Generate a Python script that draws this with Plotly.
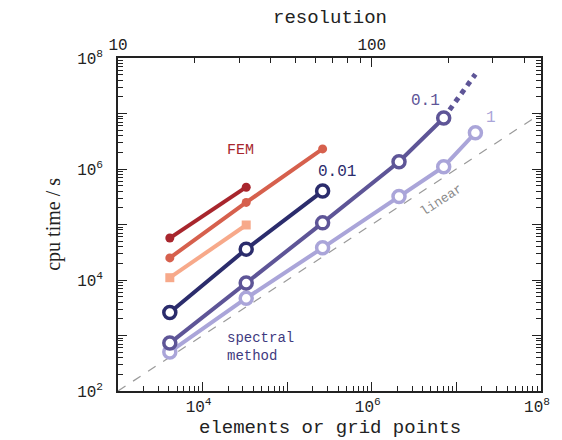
import plotly.graph_objects as go
import numpy as np

# ---- data ----
elements = [4096, 32768, 262144, 2097152, 7077888, 16777216]  # 16^3 ... 256^3
fem_dark = [5.7e4, 4.7e5]
fem_mid = [2.5e4, 2.5e5, 2.3e6]
fem_light = [1.1e4, 9.8e4]
spec_001 = [2.6e3, 3.6e4, 4.0e5]
spec_01 = [730, 8.8e3, 1.07e5, 1.35e6, 8.3e6]
spec_01_extrap_x = [7077888, 16777216]
spec_01_extrap_y = [8.3e6, 5.1e7]
spec_1 = [505, 4.7e3, 3.8e4, 3.2e5, 1.1e6, 4.5e6]
linear_x = [1e3, 1e8]
linear_y = [1e2, 1e7]

x_major = [1e3, 1e4, 1e5, 1e6, 1e7, 1e8]
x_major_text = ["", "10<sup>4</sup>", "", "10<sup>6</sup>", "", "10<sup>8</sup>"]
y_major = [1e2, 1e3, 1e4, 1e5, 1e6, 1e7, 1e8]
y_major_text = ["10<sup>2</sup>", "", "10<sup>4</sup>", "", "10<sup>6</sup>", "", "10<sup>8</sup>"]
res_major = [10, 100]
res_major_text = ["10", "100"]
res_minor = [20, 30, 40, 50, 60, 70, 80, 90, 200, 300, 400]

C_DARK = "#a8262d"
C_MID = "#d6604d"
C_LIGHT = "#f7a98a"
C_NAVY = "#2b2c6c"
C_PURP = "#5e5597"
C_LPURP = "#aaa5d9"

FONT = "Liberation Mono"

def minor_vals(lo, hi):
    v = []
    for d in range(lo, hi):
        for m in range(2, 10):
            v.append(m * 10 ** d)
    return v

fig = go.Figure()

fig.add_trace(go.Scatter(x=linear_x, y=linear_y, mode="lines",
                         line=dict(color="#9a9a9a", width=1.2, dash="dash"),
                         showlegend=False, hoverinfo="skip"))

def fem(y, color, sym="circle"):
    fig.add_trace(go.Scatter(x=elements[:len(y)], y=y, mode="lines+markers",
                             line=dict(color=color, width=4),
                             marker=dict(color=color, size=9, symbol=sym),
                             showlegend=False))

fem(fem_dark, C_DARK)
fem(fem_mid, C_MID)
fem(fem_light, C_LIGHT, "square")

def spec(y, color):
    fig.add_trace(go.Scatter(x=elements[:len(y)], y=y, mode="lines+markers",
                             line=dict(color=color, width=4),
                             marker=dict(color="white", size=12, symbol="circle",
                                         line=dict(color=color, width=3.5)),
                             showlegend=False))

fig.add_trace(go.Scatter(x=spec_01_extrap_x, y=spec_01_extrap_y, mode="lines",
                         line=dict(color=C_PURP, width=5, dash="dot"),
                         showlegend=False))
spec(spec_1, C_LPURP)
spec(spec_01, C_PURP)
spec(spec_001, C_NAVY)

# invisible trace for top axis
fig.add_trace(go.Scatter(x=[10, 10 ** (8 / 3)], y=[1e2, 1e2], xaxis="x2", mode="markers",
                         marker=dict(opacity=0), showlegend=False, hoverinfo="skip"))

axis_common = dict(showgrid=False, zeroline=False, showline=True, linecolor="#222",
                   linewidth=1.5, ticks="inside", tickcolor="#222", tickwidth=1.2,
                   tickfont=dict(family=FONT, size=16, color="#222"))

fig.update_layout(
    width=554, height=432,
    margin=dict(l=110, r=12, t=50, b=49),
    paper_bgcolor="white", plot_bgcolor="white",
    xaxis=dict(type="log", range=[3, 8], tickmode="array", tickvals=x_major,
               ticktext=x_major_text, ticklen=9, mirror=True, ticklabelstandoff=0,
               ticklabelshift=-4,
               minor=dict(tickmode="array", tickvals=minor_vals(3, 8), ticks="inside",
                          ticklen=5, tickcolor="#222", showgrid=False),
               **axis_common),
    yaxis=dict(type="log", range=[2, 8], tickmode="array", tickvals=y_major,
               ticktext=y_major_text, ticklen=9, mirror="ticks", ticklabelstandoff=10,
               minor=dict(tickmode="array", tickvals=minor_vals(2, 8), ticks="inside",
                          ticklen=5, tickcolor="#222", showgrid=False),
               **axis_common),
    xaxis2=dict(type="log", range=[1, 8 / 3], overlaying="x", side="top",
                tickmode="array", tickvals=res_major, ticktext=res_major_text, ticklen=9,
                ticklabelstandoff=0,
                minor=dict(tickmode="array", tickvals=res_minor, ticks="inside",
                           ticklen=5, tickcolor="#222", showgrid=False),
                **axis_common),
)

ann = []
def txt(x, y, s, color, size=16, angle=0, xref="x", yref="y", align="center", family=FONT):
    ann.append(dict(x=x, y=y, xref=xref, yref=yref, text=s, showarrow=False,
                    xanchor="center", yanchor="middle",
                    font=dict(family=family, size=size, color=color), textangle=angle,
                    align=align))

txt(4.45, 6.34, "FEM", C_DARK, 15)
txt(5.59, 5.95, "0.01", C_NAVY, 16)
txt(6.64, 7.23, "0.1", C_PURP, 16)
txt(7.41, 6.92, "1", C_LPURP, 16)
txt(4.68, 2.79, "spectral<br>method", "#3f3a80", 14, align="left")
txt(6.82, 5.44, "linear", "#8a8a8a", 13, angle=-33)
txt(0.5, -0.111, "elements or grid points", "#222", 19, xref="paper", yref="paper")
txt(0.5, 1.12, "resolution", "#222", 19, xref="paper", yref="paper")
txt(-0.153, 0.5, "cpu time / s", "#222", 20, angle=-90, xref="paper", yref="paper",
    family="Liberation Serif")
fig.update_layout(annotations=ann)

fig.write_html("out.html")
